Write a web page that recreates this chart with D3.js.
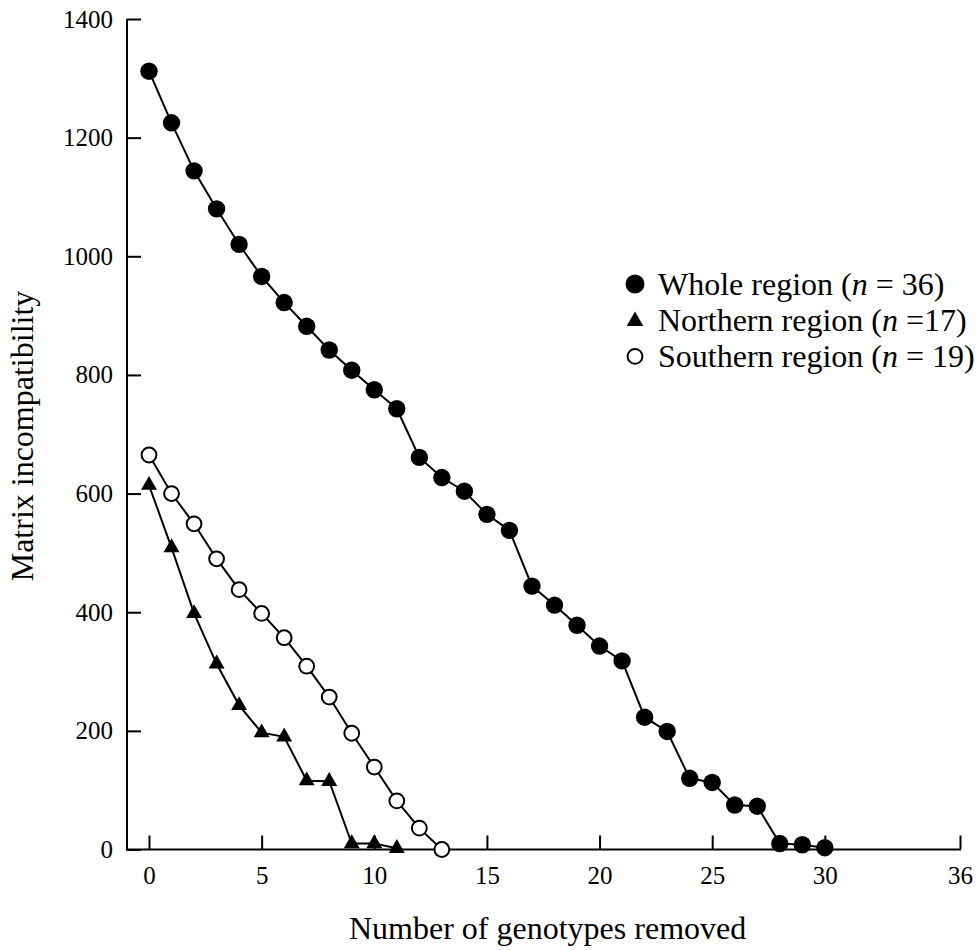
<!DOCTYPE html>
<html>
<head>
<meta charset="utf-8">
<script src="https://cdn.jsdelivr.net/npm/d3@7/dist/d3.min.js"></script>
<style>
	body { margin: 0; background: #fff; }
	svg text { font-family: "Times New Roman", "Liberation Serif", serif; fill: #000; }
</style>
</head>
<body>
<div class="chart"></div>
<script>

// values (x = number of genotypes removed)
var wholeRegion = [1312, 1225, 1144, 1080, 1020, 966, 922, 882, 842, 808, 775, 743, 661, 627, 604, 565,
	538, 444, 412, 378, 343, 318, 223, 199, 120, 113, 75, 73, 10, 8, 3];
var northernRegion = [614, 509, 398, 313, 243, 197, 190, 116, 115, 10, 10, 2];
var southernRegion = [665, 600, 549, 490, 438, 398, 357, 309, 257, 196, 139, 82, 36, 0];

var xTicks = [0, 5, 10, 15, 20, 25, 30, 36];
var yTicks = [0, 200, 400, 600, 800, 1000, 1200, 1400];

var legendLabels = [
	["Whole region (", "n", " = 36)"],
	["Northern region (", "n", " =17)"],
	["Southern region (", "n", " = 19)"]
];

var svg = d3.select(".chart")
	.append("svg")
	.attr("width", 977)
	.attr("height", 950);

var xScale = d3.scaleLinear()
	.domain([0, 36])
	.range([149, 960]);

var yScale = d3.scaleLinear()
	.domain([0, 1400])
	.range([849.5, 19]);

// ----------------------------------------------------------
// axes (ticks point inwards)

var xAxis = svg.append("g")
	.attr("transform", "translate(0," + yScale(0) + ")")
	.call(d3.axisBottom(xScale).tickValues(xTicks).tickFormat(d3.format("d"))
		.tickSizeInner(-14).tickSizeOuter(0).tickPadding(17));

var yAxis = svg.append("g")
	.attr("transform", "translate(127,0)")
	.call(d3.axisLeft(yScale).tickValues(yTicks).tickFormat(d3.format("d"))
		.tickSizeInner(-14).tickSizeOuter(0).tickPadding(14));

svg.selectAll(".domain").remove();
svg.selectAll(".tick line").attr("stroke", "#000").attr("stroke-width", 2);
svg.selectAll(".tick text")
	.style("font-size", "25px")
	.style("font-family", "'Times New Roman', 'Liberation Serif', serif");

svg.append("line")
	.attr("x1", 127).attr("x2", 127)
	.attr("y1", yScale(1400)).attr("y2", yScale(0) + 1)
	.attr("stroke", "#000").attr("stroke-width", 2);

svg.append("line")
	.attr("x1", 126).attr("x2", xScale(36) + 1)
	.attr("y1", yScale(0)).attr("y2", yScale(0))
	.attr("stroke", "#000").attr("stroke-width", 2);

svg.append("text")
	.attr("x", 349)
	.attr("y", 939)
	.attr("font-size", 32)
	.text("Number of genotypes removed");

svg.append("text")
	.attr("transform", "translate(33,436) rotate(-90)")
	.attr("text-anchor", "middle")
	.attr("font-size", 32)
	.text("Matrix incompatibility");

// ----------------------------------------------------------
// series

var line = d3.line()
	.x(function(d, i) { return xScale(i); })
	.y(function(d) { return yScale(d); });

[wholeRegion, northernRegion, southernRegion].forEach(function(series) {
	svg.append("path")
		.attr("d", line(series))
		.attr("fill", "none")
		.attr("stroke", "#000")
		.attr("stroke-width", 2);
});

svg.selectAll(".whole")
	.data(wholeRegion)
	.enter().append("circle")
	.attr("class", "whole")
	.attr("cx", function(d, i) { return xScale(i); })
	.attr("cy", function(d) { return yScale(d); })
	.attr("r", 8.7)
	.attr("fill", "#000");

var triangle = d3.symbol().type(d3.symbolTriangle).size(110);

svg.selectAll(".northern")
	.data(northernRegion)
	.enter().append("path")
	.attr("class", "northern")
	.attr("d", triangle)
	.attr("transform", function(d, i) { return "translate(" + xScale(i) + "," + yScale(d) + ")"; })
	.attr("fill", "#000");

svg.selectAll(".southern")
	.data(southernRegion)
	.enter().append("circle")
	.attr("class", "southern")
	.attr("cx", function(d, i) { return xScale(i); })
	.attr("cy", function(d) { return yScale(d); })
	.attr("r", 7.4)
	.attr("fill", "#fff")
	.attr("stroke", "#000")
	.attr("stroke-width", 2);

// ----------------------------------------------------------
// legend

var legend = svg.selectAll(".legend")
	.data(legendLabels)
	.enter().append("g")
	.attr("class", "legend")
	.attr("transform", function(d, i) { return "translate(0," + i * 36.2 + ")"; });

legend.filter(function(d, i) { return i === 0; })
	.append("circle")
	.attr("cx", 635).attr("cy", 284)
	.attr("r", 9.5)
	.attr("fill", "#000");

legend.filter(function(d, i) { return i === 1; })
	.append("path")
	.attr("d", d3.symbol().type(d3.symbolTriangle).size(120))
	.attr("transform", "translate(635,285)")
	.attr("fill", "#000");

legend.filter(function(d, i) { return i === 2; })
	.append("circle")
	.attr("cx", 635).attr("cy", 284)
	.attr("r", 7.4)
	.attr("fill", "#fff")
	.attr("stroke", "#000")
	.attr("stroke-width", 2);

var legendText = legend.append("text")
	.attr("x", 658)
	.attr("y", 295)
	.attr("font-size", 32);

legendText.append("tspan").text(function(d) { return d[0]; });
legendText.append("tspan").style("font-style", "italic").text(function(d) { return d[1]; });
legendText.append("tspan").text(function(d) { return d[2]; });

</script>
</body>
</html>
